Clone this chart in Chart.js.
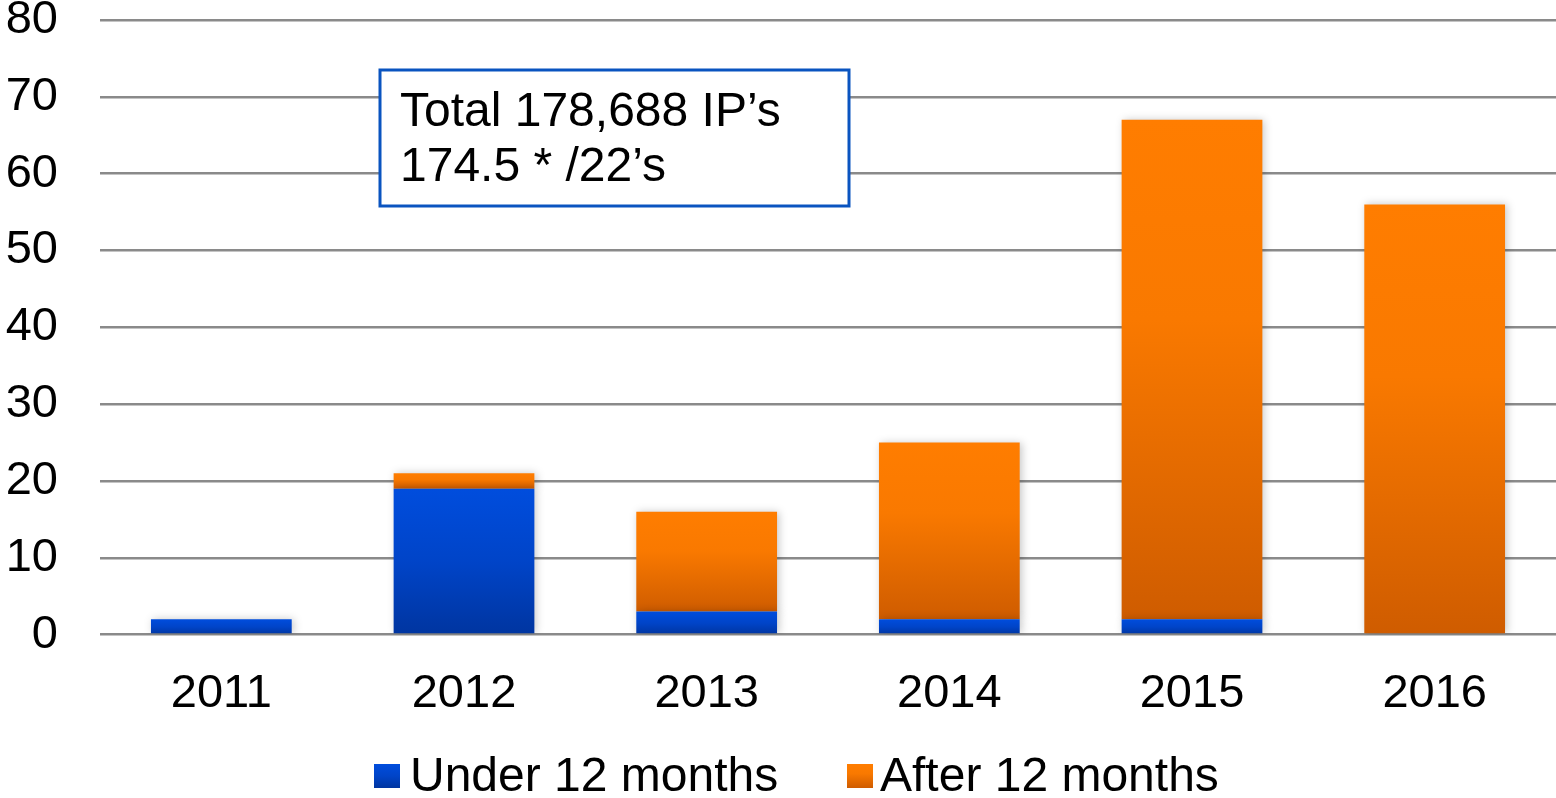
<!DOCTYPE html>
<html>
<head>
<meta charset="utf-8">
<script src="https://cdn.jsdelivr.net/npm/chart.js@4/dist/chart.umd.min.js"></script>
<style>
html,body{margin:0;padding:0;background:#fff;}
#wrap{width:1556px;height:798px;position:relative;}
</style>
</head>
<body>
<div id="wrap"><canvas id="c" width="1556" height="798"></canvas></div>
<script>
const categories = ['2011','2012','2013','2014','2015','2016'];
const underValues = [2, 19, 3, 2, 2, 0];
const afterValues = [0, 2, 13, 23, 65, 56];
const seriesNames = ['Under 12 months', 'After 12 months'];
const yTicks = [0,10,20,30,40,50,60,70,80];
const noteLines = ['Total 178,688 IP\u2019s', '174.5 * /22\u2019s'];

const FONT = '"Liberation Sans", Arial, sans-serif';

function segGradient(ctx, dsIndex, stops) {
  const chart = ctx.chart;
  const y = chart.scales.y;
  const i = ctx.dataIndex;
  if (!y || i === undefined || !chart.chartArea) return stops[0][1];
  let start = 0;
  for (let d = 0; d < dsIndex; d++) start += chart.data.datasets[d].data[i] || 0;
  const end = start + (chart.data.datasets[dsIndex].data[i] || 0);
  const top = y.getPixelForValue(end), bot = y.getPixelForValue(start);
  if (!isFinite(top) || !isFinite(bot) || top === bot) return stops[0][1];
  const g = chart.ctx.createLinearGradient(0, top, 0, bot);
  stops.forEach(s => g.addColorStop(s[0], s[1]));
  return g;
}
const blueStops = [[0,'#004ddd'],[0.5,'#0044c8'],[1,'#0035a0']];
const orangeStops = [[0,'#ff7d00'],[0.4,'#f97900'],[1,'#cf5c00']];

const shadowPlugin = {
  id: 'shadow',
  beforeDatasetsDraw(chart) {
    const c = chart.ctx; c.save();
    c.shadowColor = 'rgba(0,0,0,0.22)'; c.shadowBlur = 8; c.shadowOffsetX = 2; c.shadowOffsetY = 0;
  },
  afterDatasetsDraw(chart) { chart.ctx.restore(); }
};

const notePlugin = {
  id: 'note',
  afterDraw(chart) {
    const c = chart.ctx;
    const x0 = 380, y0 = 70, w = 469, h = 136;
    c.save();
    c.fillStyle = '#ffffff';
    c.fillRect(x0, y0, w, h);
    c.strokeStyle = '#0a54c0';
    c.lineWidth = 3;
    c.strokeRect(x0, y0, w, h);
    c.fillStyle = '#000';
    c.font = '48px ' + FONT;
    c.textBaseline = 'middle';
    c.textAlign = 'left';
    c.fillText(noteLines[0], 400, 113);
    c.fillText(noteLines[1], 400, 168);
    c.restore();
  }
};

// custom legend drawn below the axis
const legendPlugin = {
  id: 'customLegend',
  afterDraw(chart) {
    const c = chart.ctx;
    const items = [
      { text: seriesNames[0], stops: blueStops, boxX: 374, textX: 410 },
      { text: seriesNames[1], stops: orangeStops, boxX: 847, textX: 880 }
    ];
    const cy = 776;
    c.save();
    c.font = '48px ' + FONT;
    c.textBaseline = 'middle';
    c.textAlign = 'left';
    items.forEach(it => {
      const g = c.createLinearGradient(0, cy - 12, 0, cy + 12);
      it.stops.forEach(s => g.addColorStop(s[0], s[1]));
      c.fillStyle = g;
      c.fillRect(it.boxX, cy - 12, 26, 24);
      c.fillStyle = '#000';
      c.fillText(it.text, it.textX, cy + 2);
    });
    c.restore();
  }
};

new Chart(document.getElementById('c'), {
  type: 'bar',
  data: {
    labels: categories,
    datasets: [
      { label: seriesNames[0], data: underValues,
        backgroundColor: ctx => segGradient(ctx, 0, blueStops), borderWidth: 0,
        barPercentage: 0.58, categoryPercentage: 1 },
      { label: seriesNames[1], data: afterValues,
        backgroundColor: ctx => segGradient(ctx, 1, orangeStops), borderWidth: 0,
        barPercentage: 0.58, categoryPercentage: 1 }
    ]
  },
  options: {
    responsive: false,
    animation: false,
    layout: { padding: { left: 0, right: 0, top: 20, bottom: 45 } },
    scales: {
      x: {
        stacked: true,
        grid: { display: false, drawTicks: false },
        border: { display: false },
        ticks: { color: '#000', font: { family: FONT, size: 47 }, padding: 31 },
        afterFit: axis => { axis.paddingLeft = 0; axis.paddingRight = 0; }
      },
      y: {
        stacked: true, min: 0, max: 80,
        afterBuildTicks: axis => { axis.ticks = yTicks.map(v => ({ value: v })); },
        afterFit: axis => { axis.width = 100; axis.paddingTop = 0; axis.paddingBottom = 0; },
        grid: { color: '#8a8a8a', lineWidth: 2.5, drawTicks: false },
        border: { display: false },
        ticks: { color: '#000', font: { family: FONT, size: 47 }, padding: 42 }
      }
    },
    plugins: {
      legend: { display: false },
      tooltip: { enabled: false }
    }
  },
  plugins: [shadowPlugin, notePlugin, legendPlugin]
});
</script>
</body>
</html>
